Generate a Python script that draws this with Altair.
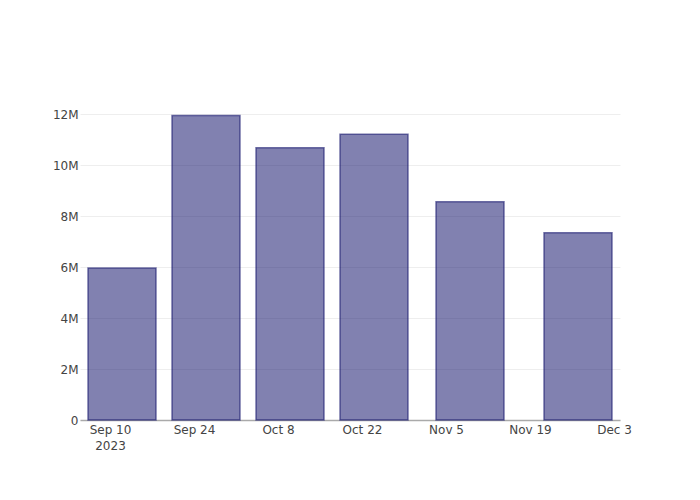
import altair as alt
import pandas as pd

dates = ["2023-09-12", "2023-09-26", "2023-10-10", "2023-10-24", "2023-11-09", "2023-11-27"]
values = [5.97e6, 11.95e6, 10.69e6, 11.22e6, 8.57e6, 7.35e6]
tick_dates = [(2023, 9, 10), (2023, 9, 24), (2023, 10, 8), (2023, 10, 22),
              (2023, 11, 5), (2023, 11, 19), (2023, 12, 3)]
y_ticks = [0, 2e6, 4e6, 6e6, 8e6, 10e6, 12e6]

df = pd.DataFrame({"date": pd.to_datetime(dates), "value": values})

tick_vals = [alt.DateTime(year=y, month=m, date=d) for (y, m, d) in tick_dates]

label_expr = ("(month(datum.value) == 8 && date(datum.value) == 10) ? "
              "[timeFormat(datum.value, '%b %-d'), '2023'] : timeFormat(datum.value, '%b %-d')")

chart = alt.Chart(df).mark_bar(
    width=68,
    fill="midnightblue",
    fillOpacity=0.55,
    stroke="midnightblue",
    strokeOpacity=0.6,
    strokeWidth=1.5,
).encode(
    x=alt.X("date:T",
            scale=alt.Scale(domain=[alt.DateTime(year=2023, month=9, date=5),
                                    alt.DateTime(year=2023, month=12, date=4)],
                            padding=0),
            axis=alt.Axis(title=None, values=tick_vals, labelExpr=label_expr,
                          grid=False, ticks=False, domainColor="#aaaaaa", domainWidth=1.5,
                          labelFont="DejaVu Sans", labelFontSize=12, labelColor="#444444",
                          labelPadding=4, labelOverlap=False, labelFlush=False,
                          labelLineHeight=16)),
    y=alt.Y("value:Q",
            scale=alt.Scale(domain=[0, 12.56e6], nice=False),
            axis=alt.Axis(title=None, values=y_ticks,
                          labelExpr="datum.value == 0 ? '0' : (datum.value / 1000000) + 'M'",
                          domain=False, ticks=False,
                          gridColor="#eeeeee", gridWidth=1,
                          labelFont="DejaVu Sans", labelFontSize=12, labelColor="#444444",
                          labelPadding=2)),
).properties(
    width=540,
    height=320,
    autosize=alt.AutoSizeParams(type="none"),
    padding={"left": 80, "top": 100, "right": 80, "bottom": 80},
).configure_view(stroke=None)

chart.save("out.html", embed_options={"renderer": "svg", "actions": False})
